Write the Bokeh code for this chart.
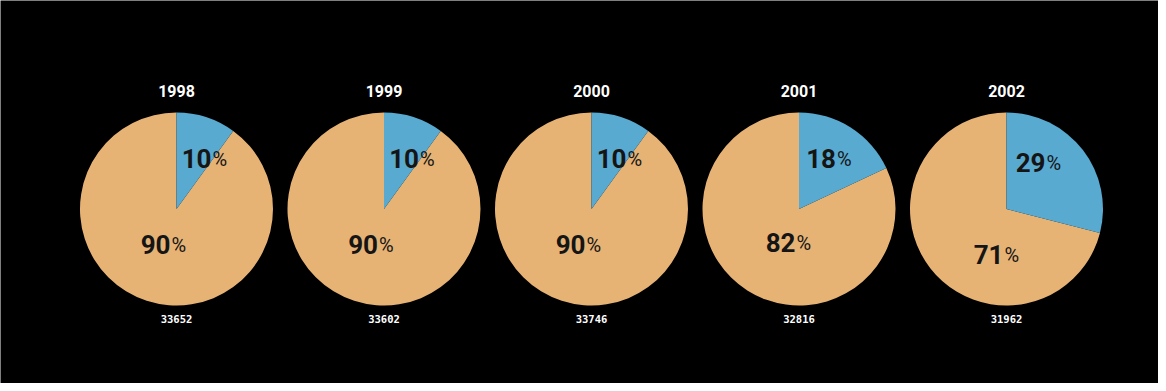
import math
from bokeh.plotting import figure
from bokeh.models import Range1d, ColumnDataSource
from bokeh.embed import file_html
from bokeh.resources import INLINE
from bokeh.core.properties import value

# ---- data ----
years = ["1998", "1999", "2000", "2001", "2002"]
blue_pct = [10, 10, 10, 18, 29]
orange_pct = [90, 90, 90, 82, 71]
totals = ["33652", "33602", "33746", "32816", "31962"]

# ---- layout / style ----
W, H = 1158, 383
X0, DX = 176, 207.5
CY = 174.5
R = 96.5
BLUE = "#59AAD1"
ORANGE = "#E7B375"
TEXT_DARK = "#151515"
FONT = "Roboto"

p = figure(width=W, height=H, x_range=Range1d(0, W), y_range=Range1d(0, H),
           output_backend="svg", toolbar_location=None, min_border=0)
p.axis.visible = False
p.grid.visible = False
p.outline_line_color = None
p.background_fill_color = "black"
p.border_fill_color = "black"

n = len(years)
xs = [X0 + i * DX for i in range(n)]
b_start = [math.pi / 2 - 2 * math.pi * b / 100 for b in blue_pct]
b_end = [math.pi / 2] * n

src = ColumnDataSource(dict(x=xs, y=[CY] * n, bs=b_start, be=b_end))
p.wedge(x="x", y="y", radius=R, start_angle="be", end_angle="bs",
        fill_color=ORANGE, line_color=None, source=src)
p.wedge(x="x", y="y", radius=R, start_angle="bs", end_angle="be",
        fill_color=BLUE, line_color=None, source=src)

# label anchor offsets (split point between number and %)
blue_off = [(35, 51), (35, 51), (35, 51), (37, 51), (39, 47)]
orange_off = [(-6, -35), (-6, -35), (-6, -35), (-3.5, -33), (-3, -45)]

num_x, num_y, num_t, pc_x, pc_y = [], [], [], [], []
for i in range(n):
    for off, val in ((blue_off[i], blue_pct[i]), (orange_off[i], orange_pct[i])):
        num_x.append(xs[i] + off[0])
        num_y.append(CY + off[1])
        num_t.append(str(val))
        pc_x.append(xs[i] + off[0] + 1)
        pc_y.append(CY + off[1] - 1)

p.text(x=num_x, y=num_y, text=num_t, text_align="right", text_baseline="middle",
       text_font=value(FONT), text_font_style="bold", text_font_size="26px",
       text_color=TEXT_DARK)
p.text(x=pc_x, y=pc_y, text=["%"] * len(pc_x), text_align="left", text_baseline="middle",
       text_font=value(FONT), text_font_size="20px", text_color=TEXT_DARK)

# titles
p.text(x=xs, y=[CY + R + 22] * n, text=years, text_align="center", text_baseline="middle",
       text_font=value(FONT), text_font_style="bold", text_font_size="16px",
       text_color="white")
# totals
p.text(x=xs, y=[CY - R - 13] * n, text=totals, text_align="center", text_baseline="middle",
       text_font=value("DejaVu Sans Mono"), text_font_style="bold", text_font_size="10.5px",
       text_color="white")

open("out.html", "w").write(file_html(p, INLINE))
